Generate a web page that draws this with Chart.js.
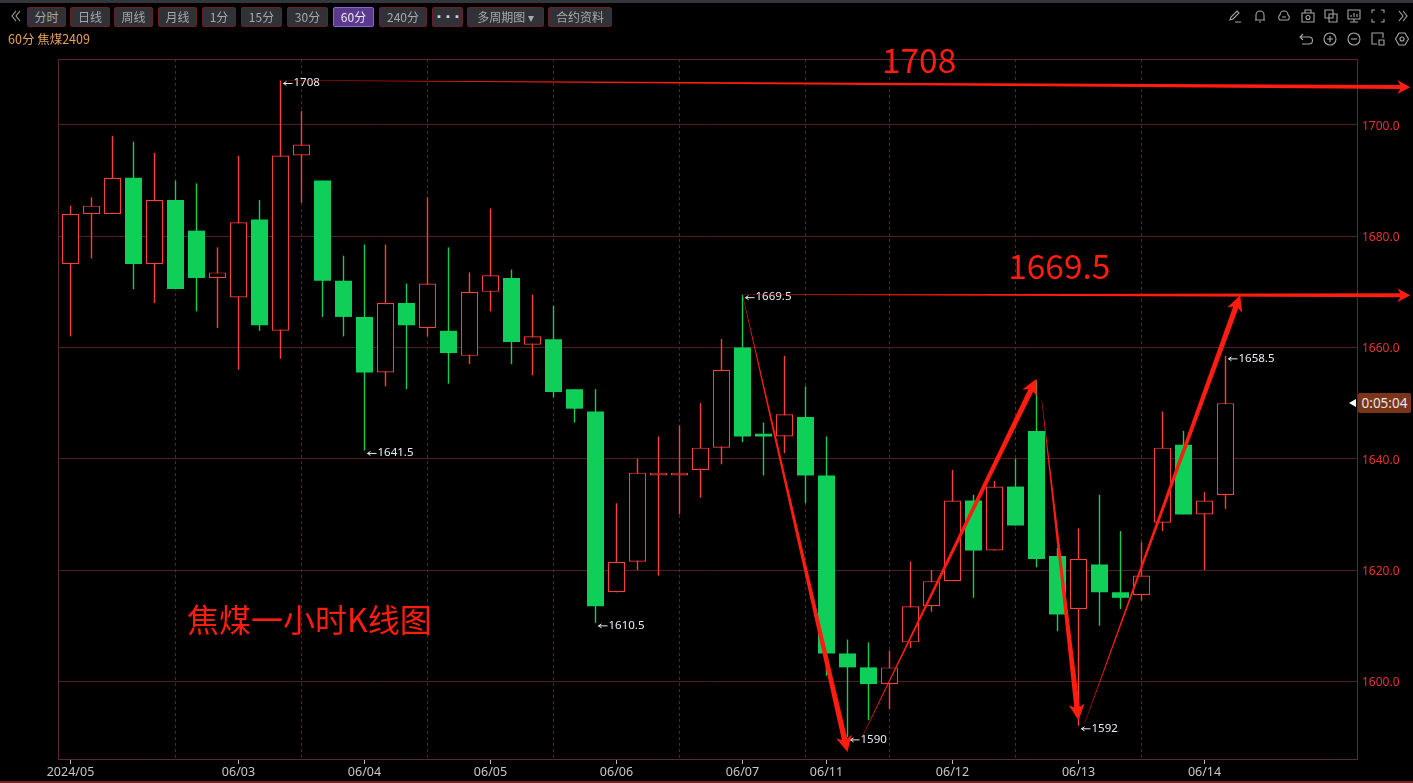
<!DOCTYPE html>
<html>
<head>
<meta charset="utf-8">
<script src="https://cdn.jsdelivr.net/npm/chart.js@4"></script>
<style>
    html, body { margin: 0; padding: 0; background: #000; overflow: hidden; }
    #page { position: relative; width: 1413px; height: 783px; background: #000; font-family: "Noto Sans CJK SC", "Noto Sans", sans-serif; }
    #priceChart { position: absolute; left: 0; top: 0; }
    .strip { position: absolute; left: 0; top: 0; width: 1413px; height: 3px; background: #33363b; }
    .foot { position: absolute; left: 0; top: 781px; width: 1413px; height: 2px; background: #7a2020; }
    .btn { position: absolute; top: 7px; height: 18px; line-height: 18px; box-sizing: content-box; border: 1px solid #6e1e1e; border-radius: 2px;
           background: #303238; color: #a8a8a8; font-size: 12px; text-align: center; white-space: nowrap; }
    .btn.active { background: #5b3a8e; border-color: #8c60d8; color: #e8e8e8; }
    .btn.dots { font-size: 10px; letter-spacing: -1px; color: #d0d0d0; }
    .title { position: absolute; left: 8px; top: 31px; color: #e8a25a; font-size: 12.5px; line-height: 16px; white-space: nowrap; }
    .icon { position: absolute; width: 16px; height: 16px; }
    .icon * { fill: none; stroke: #a6a6a6; stroke-width: 1.1; }
    #timer { position: absolute; left: 1358px; top: 393px; width: 53px; height: 20px; line-height: 20px; background: #7a3519; border-radius: 2px;
             color: #e6e6e6; font-size: 13.5px; text-align: center; font-family: "Noto Sans", sans-serif; }
    #timerArrow { position: absolute; left: 1349px; top: 399px; width: 0; height: 0; border-top: 4px solid transparent; border-bottom: 4px solid transparent; border-right: 7px solid #fff; }
</style>
</head>
<body>
<div id="page">
    <canvas id="priceChart" width="1413" height="783"></canvas>
    <div class="strip"></div>
    <div class="foot"></div>
    <svg class="icon" style="left:9px;top:8px" viewBox="0 0 16 16"><path d="M7 3 L3 8 L7 13 M11 3 L7 8 L11 13"/></svg>
    <div id="toolbar"></div>
    <div class="title">60分 焦煤2409</div>
    <svg class="icon" style="left:1227px;top:8px" viewBox="0 0 16 16"><path d="M3 12 L4 9 L10 3 L12 5 L6 11 Z M8 14 H14"/></svg>
    <svg class="icon" style="left:1252px;top:8px" viewBox="0 0 16 16"><path d="M4 12 V7 A4 4 0 0 1 12 7 V12 Z M3 12 H13 M7 14 H9"/></svg>
    <svg class="icon" style="left:1276px;top:8px" viewBox="0 0 16 16"><path d="M4 12 A3 3 0 0 1 4 7 A4 4 0 0 1 12 7 A3 3 0 0 1 12 12 Z M6 9 H10"/></svg>
    <svg class="icon" style="left:1300px;top:8px" viewBox="0 0 16 16"><path d="M2 5 H14 V14 H2 Z M5 5 V2 H11 V5"/><circle cx="8" cy="9.5" r="2"/></svg>
    <svg class="icon" style="left:1323px;top:8px" viewBox="0 0 16 16"><path d="M2 2 H10 V10 H2 Z M6 6 H14 V14 H6 Z"/></svg>
    <svg class="icon" style="left:1346px;top:8px" viewBox="0 0 16 16"><path d="M2 2 H14 V11 H2 Z M8 11 V14 M4 14 H12 M5 9 V7 M8 9 V5 M11 9 V6"/></svg>
    <svg class="icon" style="left:1370px;top:8px" viewBox="0 0 16 16"><path d="M2 5 V2 H5 M11 2 H14 V5 M14 11 V14 H11 M5 14 H2 V11"/></svg>
    <svg class="icon" style="left:1394px;top:8px" viewBox="0 0 16 16"><path d="M5 3 L9 8 L5 13 M9 3 L13 8 L9 13"/></svg>
    <svg class="icon" style="left:1298px;top:31px" viewBox="0 0 16 16"><path d="M5 3 L2 6 L5 9 M2 6 H11 A3 3 0 0 1 11 13 H4"/></svg>
    <svg class="icon" style="left:1322px;top:31px" viewBox="0 0 16 16"><circle cx="8" cy="8" r="6"/><path d="M5 8 H11 M8 5 V11"/></svg>
    <svg class="icon" style="left:1346px;top:31px" viewBox="0 0 16 16"><circle cx="8" cy="8" r="6"/><path d="M5 8 H11"/></svg>
    <svg class="icon" style="left:1370px;top:31px" viewBox="0 0 16 16"><path d="M7 13 H2 V2 H13 V7 M9 9 H14 V14 H9 Z"/></svg>
    <svg class="icon" style="left:1394px;top:31px" viewBox="0 0 16 16"><path d="M5 2 H11 L14.5 8 L11 14 H5 L1.5 8 Z"/><circle cx="8" cy="8" r="2"/></svg>
    <div id="timerArrow"></div>
    <div id="timer">0:05:04</div>
</div>
<script>
// candles
const opens  = [1675, 1684, 1684, 1690.5, 1675, 1686.5, 1681, 1672.5, 1669, 1683, 1663, 1694.5, 1690, 1672, 1665.5, 1655.5, 1668, 1663.5, 1663, 1658.5,
                1670, 1672.5, 1660.5, 1661.5, 1652.5, 1648.5, 1616, 1621.5, 1637, 1637, 1638, 1642, 1660, 1644.5, 1644, 1647.5, 1637, 1605, 1602.5, 1599.5,
                1607, 1613.5, 1618, 1632.5, 1623.5, 1635, 1645, 1622.5, 1613, 1621, 1616, 1615.5, 1628.5, 1642.5, 1630, 1633.5];
const closes = [1684, 1685.5, 1690.5, 1675, 1686.5, 1670.5, 1672.5, 1673.5, 1682.5, 1664, 1694.5, 1696.5, 1672, 1665.5, 1655.5, 1668, 1664, 1671.5, 1659, 1670,
                1673, 1661, 1662, 1652, 1649, 1613.5, 1621.5, 1637.5, 1637.5, 1637.5, 1642, 1656, 1644, 1644, 1648, 1637, 1605, 1602.5, 1599.5, 1602.5,
                1613.5, 1618, 1632.5, 1623.5, 1635, 1628, 1622, 1612, 1622, 1616, 1615, 1619, 1642, 1630, 1632.5, 1650];
const highs  = [1685.5, 1687, 1698, 1697, 1695, 1690, 1689.5, 1678, 1694.5, 1686.5, 1708, 1702.5, 1690, 1676.5, 1678.5, 1678.5, 1671.5, 1687, 1678, 1673.5,
                1685, 1674, 1669.5, 1667.5, 1652.5, 1652.5, 1632, 1640, 1644, 1646, 1650, 1661.5, 1669.5, 1646.5, 1658.5, 1653, 1644, 1607.5, 1607, 1605.5,
                1621.5, 1620, 1638, 1633.5, 1636, 1640, 1654, 1624, 1627.5, 1633.5, 1627, 1625, 1648.5, 1645, 1634, 1658.5];
const lows   = [1662, 1676, 1684, 1670.5, 1668, 1670.5, 1666.5, 1663.5, 1656, 1663, 1658, 1686, 1665.5, 1662, 1641.5, 1653, 1652.5, 1662, 1653.5, 1657,
                1666.5, 1657, 1655, 1651, 1646.5, 1610.5, 1616, 1620, 1619, 1630, 1633, 1639, 1643, 1637, 1641, 1632, 1601, 1590, 1593, 1595,
                1606, 1612.5, 1618, 1615, 1623.5, 1628, 1620.5, 1609, 1592, 1610, 1613, 1614.5, 1627, 1630, 1620, 1631];

const tickSlots = [0, 8, 14, 20, 26, 32, 36, 42, 48, 54];
const tickDates = ['2024/05', '06/03', '06/04', '06/05', '06/06', '06/07', '06/11', '06/12', '06/13', '06/14'];
const sessionSlots = [5, 11, 17, 23, 29, 35, 39, 45, 51];
const priceTicks = [1600, 1620, 1640, 1660, 1680, 1700];

// highs and lows the terminal marks on the chart
const markSlots  = [10, 14, 25, 32, 37, 48, 55];
const markValues = [1708, 1641.5, 1610.5, 1669.5, 1590, 1592, 1658.5];

// hand drawn arrows, slot and price at both ends
const arrowFromSlot  = [10.1, 32.1, 32.0, 37.7, 46.25, 48.3];
const arrowFromPrice = [1708, 1669.5, 1669.5, 1590, 1650.6, 1592.5];
const arrowToSlot    = [63.8, 63.8, 37.0, 46.0, 48.0, 55.7];
const arrowToPrice   = [1706.8, 1669.4, 1587.3, 1654.4, 1593, 1669.4];

// hand written notes, slot and price at their left baseline
const noteTexts  = ['1708', '1669.5', '焦煤一小时K线图'];
const noteSlots  = [38.64, 44.65, 5.55];
const notePrices = [1709.3, 1672.4, 1608.9];

const buttonNames = ['分时', '日线', '周线', '月线', '1分', '15分', '30分', '60分', '240分', '▪▪▪', '多周期图 ▾', '合约资料'];
const buttonLeft  = [27, 70, 114, 158, 202, 241, 287, 333, 379, 432, 467, 548];
const buttonWidth = [37, 38, 37, 37, 32, 39, 39, 39, 46, 29, 75, 62];

const UP = '#ff3d3d';
const DOWN = '#10cf58';
const ARROW = '#ff1c10';
const GRID = '#4a2222';
const SLOT = 21;
const slots = opens.map((_, i) => i);

buttonNames.forEach((name, i) => {
    const b = document.createElement('div');
    b.className = 'btn' + (name === '60分' ? ' active' : '') + (name === '▪▪▪' ? ' dots' : '');
    b.style.left = buttonLeft[i] + 'px';
    b.style.width = buttonWidth[i] + 'px';
    b.textContent = name;
    document.getElementById('toolbar').appendChild(b);
});

const isUp = (i) => closes[i] >= opens[i];

// frame around the plot, drawn before the candles
const framePlugin = {
    id: 'frame',
    beforeDatasetsDraw: (chart) => {
        const { ctx, chartArea: a } = chart;
        ctx.save();
        ctx.strokeStyle = '#5a2a2a';
        ctx.lineWidth = 1;
        ctx.strokeRect(a.left + 0.5, a.top + 0.5, a.right - a.left, a.bottom - a.top);
        ctx.restore();
    }
};

// tapered hand drawn arrow, thin at the start and wide at the head
function drawArrow(ctx, x0, y0, x1, y1, headLen, headHalf, wide) {
    const len = Math.hypot(x1 - x0, y1 - y0);
    const ux = (x1 - x0) / len, uy = (y1 - y0) / len;
    const nx = -uy, ny = ux;
    const bx = x1 - ux * headLen, by = y1 - uy * headLen;
    const nb = bx + ux * 3, nc = by + uy * 3;
    ctx.beginPath();
    ctx.moveTo(x0 + nx * 0.15, y0 + ny * 0.15);
    ctx.lineTo(nb + nx * wide / 2, nc + ny * wide / 2);
    ctx.lineTo(bx + nx * headHalf, by + ny * headHalf);
    ctx.lineTo(x1, y1);
    ctx.lineTo(bx - nx * headHalf, by - ny * headHalf);
    ctx.lineTo(nb - nx * wide / 2, nc - ny * wide / 2);
    ctx.lineTo(x0 - nx * 0.15, y0 - ny * 0.15);
    ctx.closePath();
    ctx.fillStyle = ARROW;
    ctx.fill();
}

const overlayPlugin = {
    id: 'overlay',
    afterDraw: (chart) => {
        const { ctx, scales: { x, y } } = chart;
        ctx.save();

        // max/min marks
        ctx.font = '11.5px "Noto Sans", sans-serif';
        ctx.fillStyle = '#e8eef4';
        ctx.textAlign = 'left';
        ctx.textBaseline = 'middle';
        markSlots.forEach((s, i) => {
            const px = x.getPixelForValue(s) + 3;
            const py = y.getPixelForValue(markValues[i]) + 2.5;
            ctx.strokeStyle = '#e8eef4';
            ctx.lineWidth = 1;
            ctx.beginPath();
            ctx.moveTo(px, py + 0.5);
            ctx.lineTo(px + 9, py + 0.5);
            ctx.moveTo(px + 3, py - 1.5);
            ctx.lineTo(px, py + 0.5);
            ctx.lineTo(px + 3, py + 2.5);
            ctx.stroke();
            ctx.fillText(String(markValues[i]), px + 10, py);
        });

        arrowFromSlot.forEach((s, i) => {
            const long = i < 2;
            drawArrow(ctx, x.getPixelForValue(s), y.getPixelForValue(arrowFromPrice[i]),
                x.getPixelForValue(arrowToSlot[i]), y.getPixelForValue(arrowToPrice[i]),
                long ? 13 : 16, long ? 7 : 8, long ? 4 : 5.5);
        });

        ctx.fillStyle = ARROW;
        ctx.textBaseline = 'alphabetic';
        noteTexts.forEach((t, i) => {
            ctx.font = (i === 2 ? '32px' : '33.5px') + ' "Noto Sans CJK SC", sans-serif';
            ctx.fillText(t, x.getPixelForValue(noteSlots[i]), y.getPixelForValue(notePrices[i]));
        });
        ctx.restore();
    }
};

new Chart(document.getElementById('priceChart').getContext('2d'), {
    type: 'bar',
    data: {
        datasets: [{
            label: 'wick',
            order: 2,
            grouped: false,
            barThickness: 1.4,
            borderWidth: 0,
            inflateAmount: 0,
            backgroundColor: (c) => isUp(c.dataIndex) ? UP : DOWN,
            data: slots.map((i) => ({ x: i, y: [lows[i], highs[i]] }))
        }, {
            label: 'body',
            order: 1,
            grouped: false,
            barThickness: 17,
            // green bodies are plain fills, only the hollow red ones get an outline
            borderWidth: (c) => isUp(c.dataIndex) ? 1.2 : 0,
            inflateAmount: 0,
            borderSkipped: false,
            backgroundColor: (c) => isUp(c.dataIndex) ? '#000' : DOWN,
            borderColor: (c) => isUp(c.dataIndex) ? UP : DOWN,
            data: slots.map((i) => ({ x: i, y: [opens[i], closes[i]] }))
        }]
    },
    options: {
        responsive: false,
        animation: false,
        devicePixelRatio: 1,
        layout: { padding: { left: 58, top: 59, right: 0, bottom: 0 } },
        plugins: { legend: { display: false }, tooltip: { enabled: false } },
        scales: {
            x: {
                type: 'linear',
                offset: false,
                min: -12.5 / SLOT,
                max: 1286.5 / SLOT,
                afterBuildTicks: (axis) => {
                    axis.ticks = [...tickSlots, ...sessionSlots].sort((a, b) => a - b).map((v) => ({ value: v }));
                },
                afterFit: (axis) => { axis.height = 24; },
                border: { display: false, dash: [3, 3] },
                grid: {
                    offset: false,
                    color: (c) => sessionSlots.includes(c.tick && c.tick.value) ? '#4a2a2a' : 'transparent',
                    tickColor: (c) => tickSlots.includes(c.tick && c.tick.value) ? '#bbbbbb' : 'transparent',
                    tickLength: 5,
                    tickBorderDash: []
                },
                ticks: {
                    color: '#c8c8c8',
                    font: { size: 12.5, family: '"Noto Sans", sans-serif' },
                    padding: 1,
                    maxRotation: 0,
                    autoSkip: false,
                    callback: (value) => {
                        const at = tickSlots.indexOf(value);
                        return at < 0 ? '' : tickDates[at];
                    }
                }
            },
            y: {
                position: 'right',
                min: 1586.03,
                max: 1711.86,
                afterBuildTicks: (axis) => {
                    axis.ticks = priceTicks.map((v) => ({ value: v }));
                },
                afterFit: (axis) => { axis.width = 56; },
                border: { display: false },
                grid: { color: GRID, drawTicks: false },
                ticks: {
                    color: '#e8322e',
                    font: { size: 12, family: '"Noto Sans", sans-serif' },
                    padding: 5,
                    labelOffset: 1.5,
                    callback: (value) => value.toFixed(1)
                }
            }
        }
    },
    plugins: [framePlugin, overlayPlugin]
});
</script>
</body>
</html>
